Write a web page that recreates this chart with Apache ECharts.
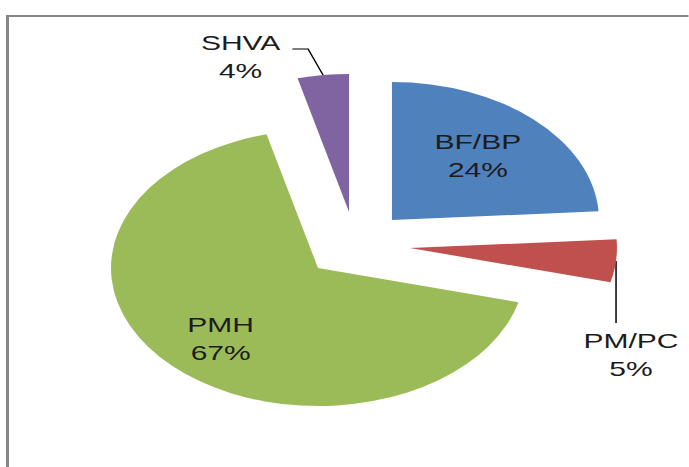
<!DOCTYPE html>
<html>
<head>
<meta charset="utf-8">
<script src="https://cdn.jsdelivr.net/npm/echarts@6/dist/echarts.min.js"></script>
<style>
  html, body { margin: 0; padding: 0; background: #fff; overflow: hidden; }
  /* the original picture is an Excel chart stretched 1.5x horizontally */
  #chart {
    width: 459.33px;
    height: 467px;
    transform: scaleX(1.5);
    transform-origin: 0 0;
  }
</style>
</head>
<body>
<div id="chart"></div>
<script>
var categories = ['BF/BP', 'PM/PC', 'PMH', 'SHVA'];
var shares = [24, 5, 67, 4];
var colors = ['#4F81BD', '#C0504D', '#9BBB59', '#8064A2'];

// exploded pie: every slice gets its own centre (unstretched px)
var centers = [[261.3, 220], [273.3, 248], [212, 268], [232.7, 212]];
var radius = 138;

var labelFont = {
  color: '#1c1c1c',
  fontFamily: 'Liberation Sans',
  fontSize: 20,
  lineHeight: 28,
  formatter: '{b}\n{c}%'
};

function anchorOf(p, i) {
  if (p.labelLinePoints && p.labelLinePoints[0]) return p.labelLinePoints[0];
  // fallback: mid angle point on outer arc
  var before = 0, total = 0;
  for (var k = 0; k < shares.length; k++) { total += shares[k]; if (k < i) before += shares[k]; }
  var mid = (before + shares[i] / 2) / total * Math.PI * 2;
  return [centers[i][0] + radius * Math.sin(mid), centers[i][1] - radius * Math.cos(mid)];
}

var layouts = [
  function () { return { dx: 8, dy: -12 }; },
  function (p) {
    var a = anchorOf(p, 1);
    return {
      x: a[0] + 10, y: a[1] + 66, align: 'center', verticalAlign: 'top',
      labelLinePoints: [a, [a[0], a[1] + 31], [a[0], a[1] + 62]]
    };
  },
  function () { return { dx: -14, dy: 20 }; },
  function (p) {
    var a = anchorOf(p, 3);
    return {
      x: a[0] - 55, y: a[1] - 18, align: 'center', verticalAlign: 'middle',
      labelLinePoints: [a, [a[0] - 10, a[1] - 26], [a[0] - 20.5, a[1] - 26]]
    };
  }
];

var series = [];
for (var i = 0; i < categories.length; i++) {
  var data = [];
  for (var j = 0; j < categories.length; j++) {
    var item = { name: categories[j], value: shares[j] };
    if (j === i) {
      item.itemStyle = { color: colors[j] };
    } else {
      item.itemStyle = { color: 'rgba(0,0,0,0)' };
      item.label = { show: false };
      item.labelLine = { show: false };
    }
    data.push(item);
  }
  var outside = (i === 1 || i === 3);
  series.push({
    type: 'pie',
    center: centers[i],
    radius: radius,
    startAngle: 90,
    clockwise: true,
    silent: true,
    avoidLabelOverlap: false,
    itemStyle: { borderWidth: 0 },
    label: Object.assign({ show: true, position: outside ? 'outside' : 'inside' }, labelFont),
    labelLine: { show: outside, length: 20, length2: 10, lineStyle: { color: '#000', width: 1 } },
    labelLayout: layouts[i],
    emphasis: { disabled: true },
    data: data
  });
}

var chart = echarts.init(document.getElementById('chart'), null, { renderer: 'svg' });
chart.setOption({
  animation: false,
  backgroundColor: '#fff',
  graphic: [{
    type: 'rect',
    shape: { x: 5, y: 16, width: 1000, height: 1000 },
    style: { fill: 'none', stroke: '#878787', lineWidth: 2 },
    silent: true
  }],
  series: series
});
</script>
</body>
</html>
